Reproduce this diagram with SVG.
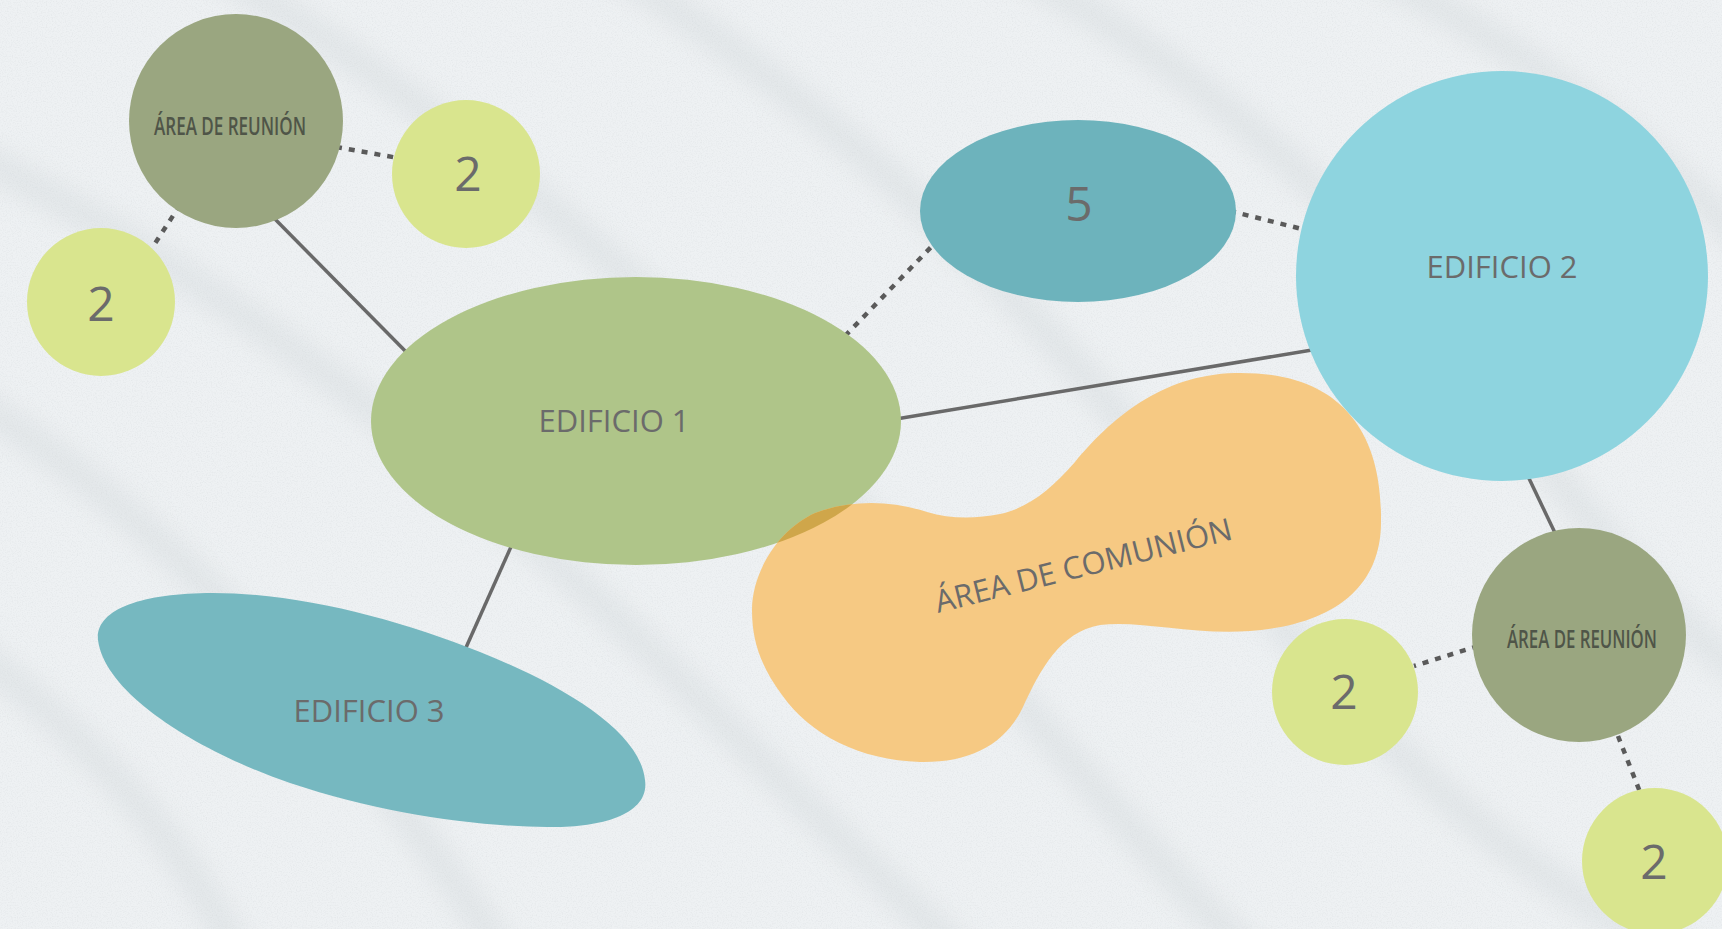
<svg xmlns="http://www.w3.org/2000/svg" width="1722" height="929" viewBox="0 0 1722 929">
<defs>
<filter id="blur" x="-20%" y="-20%" width="140%" height="140%"><feGaussianBlur stdDeviation="14"/></filter>
<filter id="grain" x="0" y="0" width="100%" height="100%">
<feTurbulence type="fractalNoise" baseFrequency="0.8" numOctaves="2" seed="7"/>
<feColorMatrix type="matrix" values="0 0 0 0 0.55  0 0 0 0 0.58  0 0 0 0 0.6  0 0 0 1.4 -0.62"/>
</filter>
<clipPath id="blobClip">
<path d="M752,610 C752,572 778,530 815,513 C850,500 890,500 927,512 C950,519 975,519 1000,514 C1030,507 1050,490 1075,462 C1110,420 1160,375 1235,373 C1330,371 1382,420 1381,520 C1382,590 1330,625 1250,631 C1190,635 1140,620 1100,625 C1060,632 1040,670 1023,707 C1005,745 970,763 920,762 C860,760 810,735 782,695 C760,665 752,640 752,610 Z"/>
</clipPath>
<style>
.lbl{font-family:"Open Sans","Liberation Sans",sans-serif;font-size:31px;fill:#6b6b6b;text-anchor:middle}
.num{font-family:"Open Sans","Liberation Sans",sans-serif;font-size:48px;fill:#6b6b6b;text-anchor:middle}
.cond{font-family:"Open Sans","Liberation Sans",sans-serif;font-size:15.5px;fill:#4f5548;text-anchor:middle;font-weight:600}
.solid{stroke:#696969;stroke-width:3.5;fill:none}
.dot{stroke:#5a5a5a;stroke-width:4.5;fill:none;stroke-dasharray:6 7}
.reunion{fill:#9aa680}
.two{fill:#d9e58e}
</style>
</defs>
<rect width="1722" height="929" fill="#eef1f3"/>
<g id="background">
<g opacity="0.55" filter="url(#blur)" stroke="#d3d9dc" stroke-width="26" fill="none">
<path d="M-100 120 Q 300 300 700 700 T 1100 1050"/>
<path d="M-60 380 Q 250 560 520 980"/>
<path d="M200 -40 Q 600 200 900 560 T 1300 1000"/>
<path d="M600 -40 Q 950 180 1200 520 T 1700 960"/>
<path d="M1000 -40 Q 1300 120 1500 400 T 1800 700"/>
<path d="M-100 600 Q 150 760 250 980"/>
<path d="M1350 -40 Q 1600 80 1800 300"/>
</g>
<rect width="1722" height="929" filter="url(#grain)" opacity="0.35"/>
</g>
<g id="connectors">
<line class="solid" x1="270" y1="214" x2="420" y2="366"/>
<line class="dot" x1="336" y1="147" x2="398" y2="158"/>
<line class="dot" x1="180" y1="205" x2="152" y2="248"/>
<line class="dot" x1="845" y1="336" x2="936" y2="242"/>
<line class="dot" x1="1230" y1="211" x2="1302" y2="229"/>
<line class="solid" x1="890" y1="420" x2="1312" y2="350"/>
<line class="solid" x1="514" y1="540" x2="464" y2="652"/>
<line class="solid" x1="1525" y1="470" x2="1556" y2="535"/>
<line class="dot" x1="1478" y1="646" x2="1414" y2="666"/>
<line class="dot" x1="1618" y1="736" x2="1640" y2="792"/>
</g>
<g id="edificio3">
<path d="M98,640 C95,610 140,593 213,593 C300,593 400,620 480,652 C560,684 640,730 645,780 C650,815 600,828 547,827 C470,826 380,813 290,783 C200,752 105,695 98,640 Z" fill="#76b8c0"/>
<text class="lbl" x="369" y="722">EDIFICIO 3</text>
</g>
<g id="edificio1">
<ellipse cx="636" cy="421" rx="265" ry="144" fill="#afc589"/>
<text class="lbl" x="614" y="432">EDIFICIO 1</text>
</g>
<g id="area-comunion">
<path d="M752,610 C752,572 778,530 815,513 C850,500 890,500 927,512 C950,519 975,519 1000,514 C1030,507 1050,490 1075,462 C1110,420 1160,375 1235,373 C1330,371 1382,420 1381,520 C1382,590 1330,625 1250,631 C1190,635 1140,620 1100,625 C1060,632 1040,670 1023,707 C1005,745 970,763 920,762 C860,760 810,735 782,695 C760,665 752,640 752,610 Z" fill="#f6c983"/>
<ellipse cx="636" cy="421" rx="265" ry="144" fill="#cfa64a" clip-path="url(#blobClip)"/>
<text class="lbl" transform="translate(1086 576) rotate(-14)">ÁREA DE COMUNIÓN</text>
</g>
<g id="cinco">
<ellipse cx="1078" cy="211" rx="158" ry="91" fill="#6db3bc"/>
<text class="num" x="1079" y="221">5</text>
</g>
<g id="edificio2">
<ellipse cx="1502" cy="276" rx="206" ry="205" fill="#8ed4df"/>
<text class="lbl" x="1502" y="278">EDIFICIO 2</text>
</g>
<g id="reunion1">
<circle class="reunion" cx="236" cy="121" r="107"/>
<text class="cond" transform="translate(230 135) scale(1 1.6)" textLength="152" lengthAdjust="spacingAndGlyphs">ÁREA DE REUNIÓN</text>
</g>
<g id="dos1">
<circle class="two" cx="466" cy="174" r="74"/>
<text class="num" x="468" y="191">2</text>
</g>
<g id="dos2">
<circle class="two" cx="101" cy="302" r="74"/>
<text class="num" x="101" y="321">2</text>
</g>
<g id="reunion2">
<circle class="reunion" cx="1579" cy="635" r="107"/>
<text class="cond" transform="translate(1582 648) scale(1 1.6)" textLength="150" lengthAdjust="spacingAndGlyphs">ÁREA DE REUNIÓN</text>
</g>
<g id="dos3">
<circle class="two" cx="1345" cy="692" r="73"/>
<text class="num" x="1344" y="709">2</text>
</g>
<g id="dos4">
<circle class="two" cx="1655" cy="861" r="73"/>
<text class="num" x="1654" y="879">2</text>
</g>
</svg>
